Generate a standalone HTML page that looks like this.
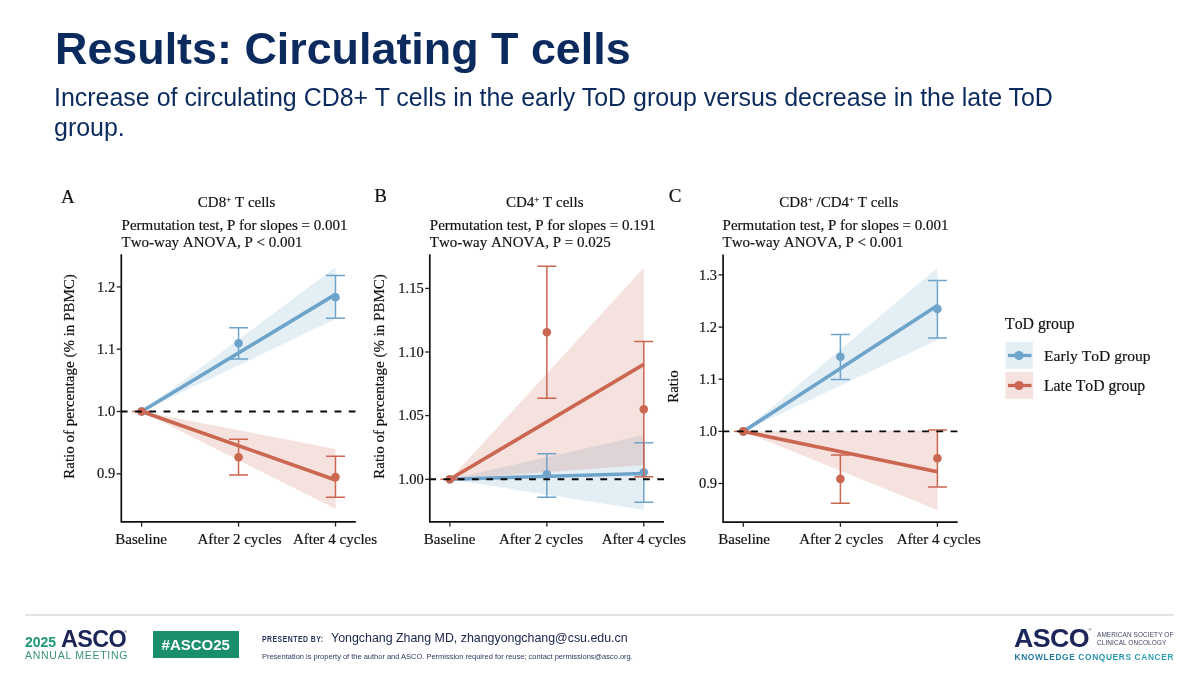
<!DOCTYPE html>
<html><head><meta charset="utf-8"><title>Results: Circulating T cells</title>
<style>
html,body{margin:0;padding:0;background:#fff;}
body{width:1200px;height:675px;position:relative;overflow:hidden;font-family:"Liberation Sans",sans-serif;}
.title{position:absolute;left:55px;top:21px;font-size:44.85px;font-weight:bold;color:#0b2a5e;white-space:nowrap;letter-spacing:0px;line-height:56px;}
.sub{position:absolute;left:54px;top:82px;font-size:24.96px;color:#0b2a5e;line-height:30px;white-space:nowrap;}
svg{position:absolute;left:0;top:0;}
svg text{font-family:"Liberation Serif",serif;fill:#111;font-kerning:none;stroke:#111;stroke-width:0.18px;}
.t{font-size:15px;}
.hr{position:absolute;left:25px;top:614px;width:1148.5px;height:1.8px;background:#e4e4e4;}
.f{position:absolute;white-space:nowrap;}
</style></head><body>
<div id="wrap" style="position:absolute;left:0;top:0;width:1200px;height:675px;will-change:transform;">
<div class="title">Results: Circulating T cells</div>
<div class="sub">Increase of circulating CD8+ T cells in the early ToD group versus decrease in the late ToD<br>group.</div>
<svg width="1200" height="675" viewBox="0 0 1200 675">
<!-- panel letters -->
<text x="61" y="202.5" font-size="19">A</text>
<text x="374.2" y="202" font-size="19">B</text>
<text x="668.7" y="201.8" font-size="19">C</text>
<!-- titles -->
<text x="236.6" y="207.3" text-anchor="middle" class="t">CD8<tspan font-size="9" dy="-5.2">+</tspan><tspan dy="5.2"> T cells</tspan></text>
<text x="544.7" y="207.3" text-anchor="middle" class="t">CD4<tspan font-size="9" dy="-5.2">+</tspan><tspan dy="5.2"> T cells</tspan></text>
<text x="838.8" y="207.3" text-anchor="middle" class="t">CD8<tspan font-size="9" dy="-5.2">+</tspan><tspan dy="5.2"> /CD4</tspan><tspan font-size="9" dy="-5.2">+</tspan><tspan dy="5.2"> T cells</tspan></text>
<text x="121.6" y="229.7" class="t">Permutation test, P for slopes = 0.001</text>
<text x="121.6" y="247.3" class="t">Two-way ANOVA, P &lt; 0.001</text>
<text x="429.8" y="229.7" class="t">Permutation test, P for slopes = 0.191</text>
<text x="429.8" y="247.3" class="t">Two-way ANOVA, P = 0.025</text>
<text x="722.6" y="229.7" class="t">Permutation test, P for slopes = 0.001</text>
<text x="722.6" y="247.3" class="t">Two-way ANOVA, P &lt; 0.001</text>
<!-- y labels -->
<text transform="translate(74,376.5) rotate(-90)" text-anchor="middle" class="t">Ratio of percentage (% in PBMC)</text>
<text transform="translate(384,376.5) rotate(-90)" text-anchor="middle" class="t">Ratio of percentage (% in PBMC)</text>
<text transform="translate(678,386.6) rotate(-90)" text-anchor="middle" class="t">Ratio</text>
<!-- chart A -->
<polygon points="141.6,411.5 335.5,267.3 335.5,319" fill="#6ea3ca" fill-opacity="0.19"/>
<polygon points="141.6,411.5 335.5,449 335.5,508.8" fill="#cb6651" fill-opacity="0.19"/>
<line x1="141.6" y1="411.5" x2="335.5" y2="294.4" stroke="#6ea3ca" stroke-width="3.6" stroke-linecap="butt"/>
<line x1="141.6" y1="411.5" x2="335.5" y2="480" stroke="#cb6651" stroke-width="3.6" stroke-linecap="butt"/>
<circle cx="141.6" cy="411.5" r="4.3" fill="#6ea3ca"/><path d="M229.05,327.8H248.05M229.05,358.9H248.05M238.55,327.8V358.9" stroke="#6ea3ca" stroke-width="1.5" fill="none"/><circle cx="238.55" cy="343.3" r="4.3" fill="#6ea3ca"/><path d="M326.0,275.6H345.0M326.0,318.2H345.0M335.5,275.6V318.2" stroke="#6ea3ca" stroke-width="1.5" fill="none"/><circle cx="335.5" cy="297.3" r="4.3" fill="#6ea3ca"/>
<path d="M132.1,411.5H151.1" stroke="#cb6651" stroke-width="1.5"/><circle cx="141.6" cy="411.5" r="4.3" fill="#cb6651"/><path d="M229.05,439.3H248.05M229.05,475.1H248.05M238.55,439.3V475.1" stroke="#cb6651" stroke-width="1.5" fill="none"/><circle cx="238.55" cy="457.3" r="4.3" fill="#cb6651"/><path d="M326.0,456.2H345.0M326.0,497.3H345.0M335.5,456.2V497.3" stroke="#cb6651" stroke-width="1.5" fill="none"/><circle cx="335.5" cy="477.1" r="4.3" fill="#cb6651"/>
<line x1="120.8" y1="411.5" x2="355.5" y2="411.5" stroke="#0a0a0a" stroke-width="1.9" stroke-dasharray="6.8,7.45"/>
<path d="M121.3,254.3V521.9H355.8" stroke="#111" stroke-width="1.7" fill="none" stroke-linejoin="miter"/>
<line x1="141.6" y1="521.9" x2="141.6" y2="526.6" stroke="#222" stroke-width="1.3"/>
<line x1="238.55" y1="521.9" x2="238.55" y2="526.6" stroke="#222" stroke-width="1.3"/>
<line x1="335.5" y1="521.9" x2="335.5" y2="526.6" stroke="#222" stroke-width="1.3"/>
<line x1="116.7" y1="473.8" x2="121.3" y2="473.8" stroke="#222" stroke-width="1.3"/>
<text x="115.2" y="478.4" text-anchor="end" class="t" style="font-size:14.5px">0.9</text>
<line x1="116.7" y1="411.5" x2="121.3" y2="411.5" stroke="#222" stroke-width="1.3"/>
<text x="115.2" y="416.1" text-anchor="end" class="t" style="font-size:14.5px">1.0</text>
<line x1="116.7" y1="349.2" x2="121.3" y2="349.2" stroke="#222" stroke-width="1.3"/>
<text x="115.2" y="353.8" text-anchor="end" class="t" style="font-size:14.5px">1.1</text>
<line x1="116.7" y1="286.9" x2="121.3" y2="286.9" stroke="#222" stroke-width="1.3"/>
<text x="115.2" y="291.5" text-anchor="end" class="t" style="font-size:14.5px">1.2</text>
<text x="141.1" y="543.9" text-anchor="middle" class="t">Baseline</text>
<text x="239.6" y="543.9" text-anchor="middle" class="t">After 2 cycles</text>
<text x="335.0" y="543.9" text-anchor="middle" class="t">After 4 cycles</text>
<!-- chart B -->
<polygon points="449.9,479.3 643.8,435 643.8,510" fill="#6ea3ca" fill-opacity="0.19"/>
<polygon points="449.9,479.3 643.8,267.8 643.8,465" fill="#cb6651" fill-opacity="0.19"/>
<line x1="449.9" y1="479.3" x2="643.8" y2="473.5" stroke="#6ea3ca" stroke-width="3.6" stroke-linecap="butt"/>
<line x1="449.9" y1="479.3" x2="643.8" y2="364.4" stroke="#cb6651" stroke-width="3.6" stroke-linecap="butt"/>
<circle cx="449.9" cy="479.3" r="4.3" fill="#6ea3ca"/><path d="M537.35,453.8H556.35M537.35,497.3H556.35M546.85,453.8V497.3" stroke="#6ea3ca" stroke-width="1.5" fill="none"/><circle cx="546.85" cy="474.4" r="4.3" fill="#6ea3ca"/><path d="M634.3,442.7H653.3M634.3,502.2H653.3M643.8,442.7V502.2" stroke="#6ea3ca" stroke-width="1.5" fill="none"/><circle cx="643.8" cy="472.2" r="4.3" fill="#6ea3ca"/>
<path d="M440.4,479.3H459.4" stroke="#cb6651" stroke-width="1.5"/><circle cx="449.9" cy="479.3" r="4.3" fill="#cb6651"/><path d="M537.35,266.2H556.35M537.35,398.2H556.35M546.85,266.2V398.2" stroke="#cb6651" stroke-width="1.5" fill="none"/><circle cx="546.85" cy="332.2" r="4.3" fill="#cb6651"/><path d="M634.3,341.6H653.3M634.3,476.7H653.3M643.8,341.6V476.7" stroke="#cb6651" stroke-width="1.5" fill="none"/><circle cx="643.8" cy="409.3" r="4.3" fill="#cb6651"/>
<line x1="429.3" y1="479.3" x2="664" y2="479.3" stroke="#0a0a0a" stroke-width="1.9" stroke-dasharray="6.8,7.45"/>
<path d="M429.8,254.3V521.9H664" stroke="#111" stroke-width="1.7" fill="none" stroke-linejoin="miter"/>
<line x1="449.9" y1="521.9" x2="449.9" y2="526.6" stroke="#222" stroke-width="1.3"/>
<line x1="546.85" y1="521.9" x2="546.85" y2="526.6" stroke="#222" stroke-width="1.3"/>
<line x1="643.8" y1="521.9" x2="643.8" y2="526.6" stroke="#222" stroke-width="1.3"/>
<line x1="425.2" y1="479.3" x2="429.8" y2="479.3" stroke="#222" stroke-width="1.3"/>
<text x="423.7" y="483.9" text-anchor="end" class="t" style="font-size:14.5px">1.00</text>
<line x1="425.2" y1="415.6" x2="429.8" y2="415.6" stroke="#222" stroke-width="1.3"/>
<text x="423.7" y="420.2" text-anchor="end" class="t" style="font-size:14.5px">1.05</text>
<line x1="425.2" y1="352.0" x2="429.8" y2="352.0" stroke="#222" stroke-width="1.3"/>
<text x="423.7" y="356.6" text-anchor="end" class="t" style="font-size:14.5px">1.10</text>
<line x1="425.2" y1="288.4" x2="429.8" y2="288.4" stroke="#222" stroke-width="1.3"/>
<text x="423.7" y="293.0" text-anchor="end" class="t" style="font-size:14.5px">1.15</text>
<text x="449.6" y="543.9" text-anchor="middle" class="t">Baseline</text>
<text x="541.1" y="543.9" text-anchor="middle" class="t">After 2 cycles</text>
<text x="643.8" y="543.9" text-anchor="middle" class="t">After 4 cycles</text>
<!-- chart C -->
<polygon points="743.3,431.4 937.4,267.8 937.4,340" fill="#6ea3ca" fill-opacity="0.19"/>
<polygon points="743.3,431.4 937.4,430.5 937.4,510" fill="#cb6651" fill-opacity="0.19"/>
<line x1="743.3" y1="431.4" x2="937.4" y2="305.6" stroke="#6ea3ca" stroke-width="3.6" stroke-linecap="butt"/>
<line x1="743.3" y1="431.4" x2="937.4" y2="471.8" stroke="#cb6651" stroke-width="3.6" stroke-linecap="butt"/>
<circle cx="743.3" cy="431.4" r="4.3" fill="#6ea3ca"/><path d="M830.9,334.4H849.9M830.9,379.6H849.9M840.4,334.4V379.6" stroke="#6ea3ca" stroke-width="1.5" fill="none"/><circle cx="840.4" cy="356.7" r="4.3" fill="#6ea3ca"/><path d="M927.9,280.4H946.9M927.9,337.9H946.9M937.4,280.4V337.9" stroke="#6ea3ca" stroke-width="1.5" fill="none"/><circle cx="937.4" cy="308.9" r="4.3" fill="#6ea3ca"/>
<path d="M733.8,431.4H752.8" stroke="#cb6651" stroke-width="1.5"/><circle cx="743.3" cy="431.4" r="4.3" fill="#cb6651"/><path d="M830.9,454.9H849.9M830.9,503.3H849.9M840.4,454.9V503.3" stroke="#cb6651" stroke-width="1.5" fill="none"/><circle cx="840.4" cy="478.9" r="4.3" fill="#cb6651"/><path d="M927.9,430H946.9M927.9,487.1H946.9M937.4,430V487.1" stroke="#cb6651" stroke-width="1.5" fill="none"/><circle cx="937.4" cy="458.2" r="4.3" fill="#cb6651"/>
<line x1="722.6" y1="431.4" x2="957.5" y2="431.4" stroke="#0a0a0a" stroke-width="1.9" stroke-dasharray="6.8,7.45"/>
<path d="M723.1,254.6V522.1H957.7" stroke="#111" stroke-width="1.7" fill="none" stroke-linejoin="miter"/>
<line x1="743.3" y1="522.1" x2="743.3" y2="526.8000000000001" stroke="#222" stroke-width="1.3"/>
<line x1="840.4" y1="522.1" x2="840.4" y2="526.8000000000001" stroke="#222" stroke-width="1.3"/>
<line x1="937.4" y1="522.1" x2="937.4" y2="526.8000000000001" stroke="#222" stroke-width="1.3"/>
<line x1="718.5" y1="483.5" x2="723.1" y2="483.5" stroke="#222" stroke-width="1.3"/>
<text x="717.0" y="488.1" text-anchor="end" class="t" style="font-size:14.5px">0.9</text>
<line x1="718.5" y1="431.4" x2="723.1" y2="431.4" stroke="#222" stroke-width="1.3"/>
<text x="717.0" y="436.0" text-anchor="end" class="t" style="font-size:14.5px">1.0</text>
<line x1="718.5" y1="379.2" x2="723.1" y2="379.2" stroke="#222" stroke-width="1.3"/>
<text x="717.0" y="383.8" text-anchor="end" class="t" style="font-size:14.5px">1.1</text>
<line x1="718.5" y1="327.1" x2="723.1" y2="327.1" stroke="#222" stroke-width="1.3"/>
<text x="717.0" y="331.7" text-anchor="end" class="t" style="font-size:14.5px">1.2</text>
<line x1="718.5" y1="274.9" x2="723.1" y2="274.9" stroke="#222" stroke-width="1.3"/>
<text x="717.0" y="279.5" text-anchor="end" class="t" style="font-size:14.5px">1.3</text>
<text x="744.2" y="543.9" text-anchor="middle" class="t">Baseline</text>
<text x="841.3" y="543.9" text-anchor="middle" class="t">After 2 cycles</text>
<text x="938.7" y="543.9" text-anchor="middle" class="t">After 4 cycles</text>
<!-- legend -->
<text x="1005" y="329.3" font-size="15.8">ToD group</text>
<rect x="1005.5" y="342" width="27.5" height="26.8" fill="#6ea3ca" fill-opacity="0.19"/>
<line x1="1008" y1="355.5" x2="1031.5" y2="355.5" stroke="#6ea3ca" stroke-width="3.3"/>
<circle cx="1019" cy="355.5" r="4.6" fill="#6ea3ca"/>
<rect x="1005.5" y="372" width="27.5" height="26.8" fill="#cb6651" fill-opacity="0.19"/>
<line x1="1008" y1="385.5" x2="1031.5" y2="385.5" stroke="#cb6651" stroke-width="3.3"/>
<circle cx="1019" cy="385.5" r="4.6" fill="#cb6651"/>
<text x="1044" y="361" font-size="15.6">Early ToD group</text>
<text x="1044" y="391" font-size="15.7">Late ToD group</text>
</svg>
<div class="hr"></div>
<!-- footer left logo -->
<div class="f" style="left:25px;top:635px;font-size:14px;font-weight:bold;color:#1f9775;line-height:14px;">2025</div>
<div class="f" style="left:61px;top:628.2px;font-size:23.4px;font-weight:bold;color:#1b2557;line-height:23px;letter-spacing:-0.6px;">ASCO</div>
<div class="f" style="left:124px;top:630px;font-size:4px;color:#1b2557;line-height:4px;">&#174;</div>
<div class="f" style="left:25px;top:650.2px;font-size:10.5px;color:#3a9278;line-height:11px;letter-spacing:0.73px;">ANNUAL MEETING</div>
<div class="f" style="left:152.6px;top:630.6px;width:86.4px;height:27.8px;background:#1a8f6b;color:#fff;font-weight:bold;font-size:15px;line-height:28px;text-align:center;">#ASCO25</div>
<div class="f" style="left:262px;top:632.6px;font-size:9.6px;font-weight:bold;color:#26345a;letter-spacing:0.7px;line-height:12px;transform:scaleX(0.715);transform-origin:0 0;">PRESENTED BY:</div>
<div class="f" style="left:331px;top:631px;font-size:12.4px;color:#18234a;line-height:15px;">Yongchang Zhang MD, zhangyongchang@csu.edu.cn</div>
<div class="f" style="left:262px;top:651.6px;font-size:7.47px;color:#2c3a60;line-height:9px;">Presentation is property of the author and ASCO. Permission required for reuse; contact permissions@asco.org.</div>
<!-- footer right logo -->
<div class="f" style="left:1014px;top:626.2px;font-size:25.2px;font-weight:bold;color:#1b2557;line-height:25px;letter-spacing:-0.6px;transform:scaleX(1.065);transform-origin:0 0;">ASCO</div>
<div class="f" style="left:1088.5px;top:628px;font-size:4px;color:#1b2557;line-height:4px;">&#174;</div>
<div class="f" style="left:1096.5px;top:630.9px;font-size:7.5px;color:#3f4560;line-height:8.1px;letter-spacing:0.1px;transform:scaleX(0.86);transform-origin:0 0;">AMERICAN SOCIETY OF<br>CLINICAL ONCOLOGY</div>
<div class="f" style="left:1014.5px;top:651.6px;font-size:8.4px;font-weight:bold;line-height:10px;letter-spacing:0.615px;background:linear-gradient(90deg,#1a6a9a 0%,#1f8fa8 50%,#27a5b4 100%);-webkit-background-clip:text;background-clip:text;color:transparent;">KNOWLEDGE CONQUERS CANCER</div>
</div>
</body></html>
